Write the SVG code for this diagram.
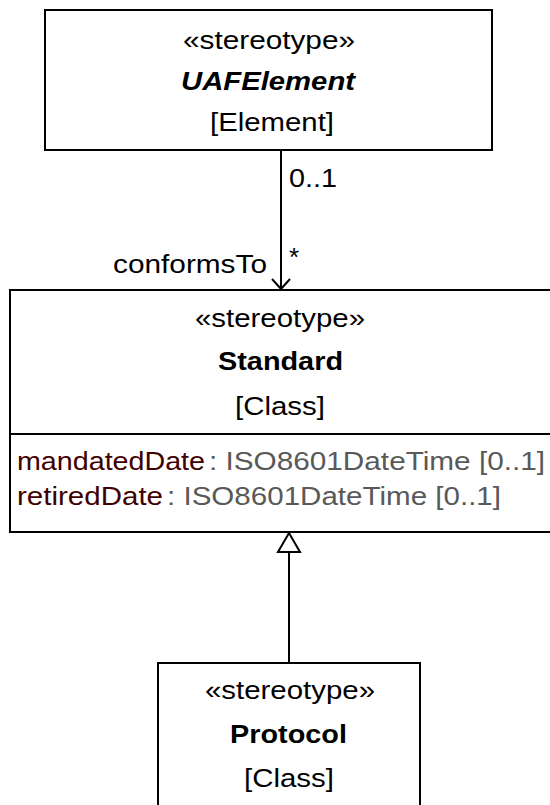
<svg xmlns="http://www.w3.org/2000/svg" width="550" height="805" viewBox="0 0 550 805">
<style>
.box{fill:#fff;stroke:#000;stroke-width:2}
.t{font-family:"Liberation Sans",Arial,sans-serif;font-size:26px;fill:#000}
.c{text-anchor:middle}
.b{font-weight:bold}
.bi{font-weight:bold;font-style:italic}
.an{fill:#3f0000}
.ty{fill:#595959}
.ln{stroke:#000;stroke-width:2;fill:none}
</style>
<rect width="550" height="805" fill="#fff"/>
<g id="UAFElement">
<rect class="box" x="45" y="10" width="447" height="140"/>
<text class="t" x="183" y="49" textLength="172" lengthAdjust="spacingAndGlyphs">«stereotype»</text>
<text class="t bi" x="181" y="90" textLength="174" lengthAdjust="spacingAndGlyphs">UAFElement</text>
<text class="t" x="210" y="131" textLength="124" lengthAdjust="spacingAndGlyphs">[Element]</text>
</g>
<g id="Standard">
<rect class="box" x="10" y="290" width="545" height="242"/>
<line class="ln" x1="10" y1="434" x2="555" y2="434"/>
<text class="t" x="195" y="327" textLength="170" lengthAdjust="spacingAndGlyphs">«stereotype»</text>
<text class="t b" x="218" y="370" textLength="125" lengthAdjust="spacingAndGlyphs">Standard</text>
<text class="t" x="235" y="415" textLength="90" lengthAdjust="spacingAndGlyphs">[Class]</text>
<text class="t an" x="17" y="470" textLength="188" lengthAdjust="spacingAndGlyphs">mandatedDate</text>
<text class="t ty" x="209" y="470" textLength="336" lengthAdjust="spacingAndGlyphs">: ISO8601DateTime [0..1]</text>
<text class="t an" x="17" y="505" textLength="146" lengthAdjust="spacingAndGlyphs">retiredDate</text>
<text class="t ty" x="167" y="505" textLength="334" lengthAdjust="spacingAndGlyphs">: ISO8601DateTime [0..1]</text>
</g>
<g id="Protocol">
<rect class="box" x="158" y="663" width="262" height="160"/>
<text class="t" x="205" y="699" textLength="170" lengthAdjust="spacingAndGlyphs">«stereotype»</text>
<text class="t b" x="230" y="743" textLength="117" lengthAdjust="spacingAndGlyphs">Protocol</text>
<text class="t" x="244" y="787" textLength="90" lengthAdjust="spacingAndGlyphs">[Class]</text>
</g>
<g id="connectors">
<line class="ln" x1="281" y1="150" x2="281" y2="289"/>
<polyline class="ln" points="272,279 281,289 290,279"/>
<text class="t" x="289" y="187" textLength="48" lengthAdjust="spacingAndGlyphs">0..1</text>
<text class="t" x="289" y="266">*</text>
<text class="t" x="113" y="273" textLength="154" lengthAdjust="spacingAndGlyphs">conformsTo</text>
<line class="ln" x1="289" y1="552" x2="289" y2="663"/>
<polygon class="ln" points="289,533 278,552 300,552" fill="#fff"/>
</g>
</svg>
